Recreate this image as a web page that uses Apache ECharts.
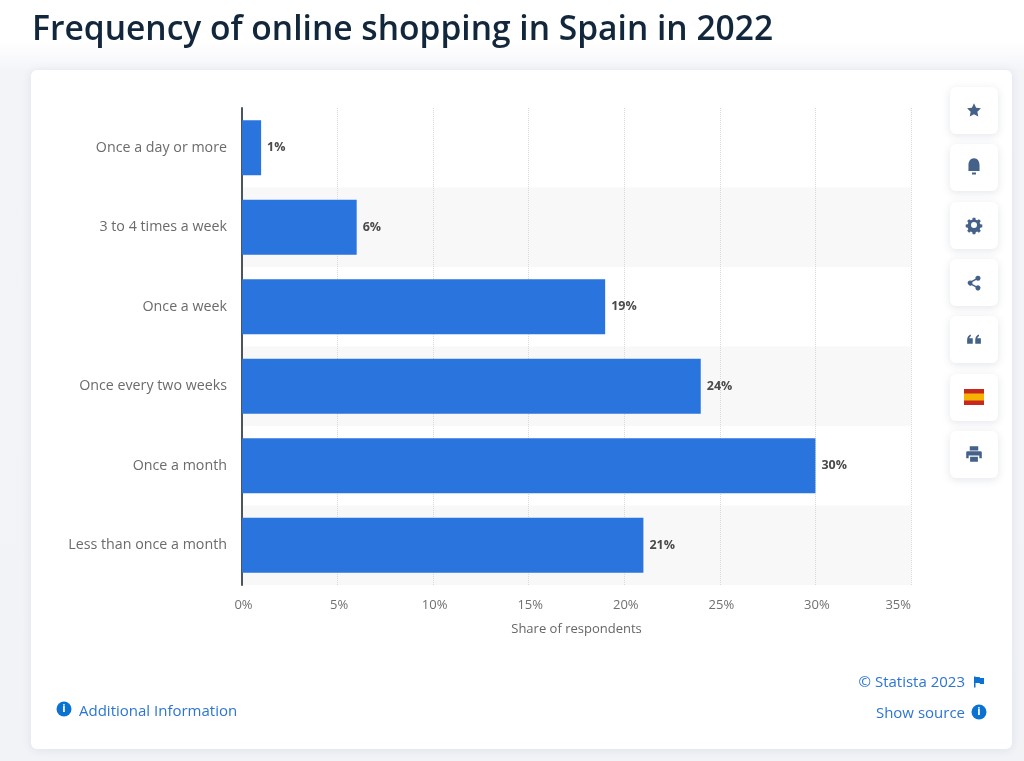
<!DOCTYPE html>
<html><head><meta charset="utf-8">
<style>html,body{margin:0;padding:0;background:#f3f4f8}#c{width:1024px;height:761px}</style>
<script src="https://cdn.jsdelivr.net/npm/echarts@6/dist/echarts.min.js"></script>
</head><body><div id="c"></div>
<script>
const categories = ['Once a day or more','3 to 4 times a week','Once a week','Once every two weeks','Once a month','Less than once a month'];
const shares = [1, 6, 19, 24, 30, 21];
const titleText = 'Frequency of online shopping in Spain in 2022';
const axisName = 'Share of respondents';

const F = '"Open Sans", "Noto Sans", sans-serif';
const navy = '#44618a';
const link = '#2b75d6';
const infoBlue = '#0b72d1';

function button(y){
  return {type:'rect',shape:{x:950,y:y,width:48,height:47,r:6},
    style:{fill:'#fff',shadowBlur:8,shadowColor:'rgba(40,60,100,0.13)',shadowOffsetY:2},z:2};
}
const icons = {
  icoStar:'M12 1l3.400 7.200 7.600 1-5.600 5.400 1.400 7.800L12 18.600 5.200 22.400l1.400-7.800L1 9.200l7.600-1z',
  icoBell:'M12 1c4.600 0 7 4 7 9v7H5v-7c0-5 2.400-9 7-9zM9.500 19h5v2.500h-5z',
  icoGear:'M10 1h4l.6 3 2.200.9 2.600-1.700 2.800 2.800-1.700 2.600.9 2.200 3 .6v4l-3 .6-.9 2.200 1.700 2.600-2.800 2.800-2.600-1.700-2.200.9-.6 3h-4l-.6-3-2.200-.9-2.600 1.700-2.800-2.800 1.700-2.600-.9-2.200-3-.6v-4l3-.6.9-2.200-1.700-2.600 2.800-2.800 2.600 1.700 2.200-.9zM12 7.500a4.500 4.500 0 1 0 0 9 4.500 4.500 0 0 0 0-9z',
  icoShare:'M18 1a3.800 3.800 0 1 1-2.800 6.400L9.500 10.600a3.800 3.800 0 0 1 0 2.800l5.700 3.200a3.800 3.800 0 1 1-1 1.800L8.500 15.200a3.800 3.800 0 1 1 0-6.400l5.700-3.200A3.800 3.800 0 0 1 18 1z',
  icoQuote:'M1 12c0-5 2-8 6-9v3c-1.500.5-2.300 1.500-2.500 3H10v9H1zM14 12c0-5 2-8 6-9v3c-1.500.5-2.300 1.500-2.500 3H23v9h-9z',
  icoPrint:'M6 1h12v6H6zM3 8h18a2 2 0 0 1 2 2v8h-3.500v-4h-15v4H1v-8a2 2 0 0 1 2-2zM6.500 16h11v7h-11z',
  icoFlag:'M2 1h3v1h8l1 2h8v12h-8l-1-2H5v9H2z'
};
Object.keys(icons).forEach(k => echarts.graphic.registerShape(k, echarts.graphic.extendPath(icons[k])));
function icon(name,cx,cy,size,fill){
  const s = size/24;
  return {type:name,x:cx-size/2,y:cy-size/2,scaleX:s,scaleY:s,style:{fill:fill||navy},z:3};
}
function info(cx,cy){
  return [
    {type:'circle',shape:{cx:cx,cy:cy,r:7.5},style:{fill:infoBlue},z:3},
    {type:'text',x:cx,y:cy,style:{text:'i',fill:'#fff',font:'bold 11px '+F,align:'center',verticalAlign:'middle'},z:4}
  ];
}

const graphics = [
  {type:'rect',shape:{x:0,y:0,width:1024,height:761},silent:true,z:-20,
   style:{fill:new echarts.graphic.LinearGradient(0,0,0,1,[
     {offset:0,color:'#ffffff'},{offset:0.055,color:'#ffffff'},{offset:0.095,color:'#f3f4f8'},{offset:1,color:'#f1f3f7'}])}},
  {type:'rect',shape:{x:31,y:70,width:981,height:679,r:6},
   style:{fill:'#fff',shadowBlur:10,shadowColor:'rgba(40,60,100,0.10)',shadowOffsetY:1},z:-10,silent:true},
  button(87),button(144),button(202),button(259),button(316),button(374),button(431),
  icon('icoStar',974,110,15),icon('icoBell',974,167,19),icon('icoGear',974,225,16),icon('icoShare',974,283,16),
  icon('icoQuote',974,340,15),icon('icoPrint',974,454,17),
  {type:'rect',shape:{x:964,y:389,width:20,height:16},style:{fill:'#c8281e'},z:3},
  {type:'rect',shape:{x:964,y:393.500,width:20,height:7},style:{fill:'#f5b400'},z:4},
  ...info(64,709),...info(979,712),
  {type:'text',x:79,y:712,style:{text:'Additional Information',fill:link,font:'15px '+F,align:'left',verticalAlign:'middle'},z:3},
  {type:'text',x:965,y:683,style:{text:'© Statista 2023',fill:link,font:'15px '+F,align:'right',verticalAlign:'middle'},z:3},
  {type:'text',x:965,y:714,style:{text:'Show source',fill:link,font:'15px '+F,align:'right',verticalAlign:'middle'},z:3},
  icon('icoFlag',979,682,12,infoBlue)
];

const chart = echarts.init(document.getElementById('c'),null,{renderer:'canvas'});
chart.setOption({
  animation:false,
  title:{text:titleText,left:27,top:8,textStyle:{fontFamily:F,fontSize:33.6,fontWeight:600,color:'#12263c'}},
  grid:{left:242,right:113,top:108,bottom:176,containLabel:false},
  xAxis:{type:'value',min:0,max:35,interval:5,
    name:axisName,nameLocation:'middle',nameGap:38,
    nameTextStyle:{fontFamily:F,fontSize:13,color:'#666'},
    axisLine:{show:false},axisTick:{show:false},
    axisLabel:{formatter:'{value}%',fontFamily:F,fontSize:13,color:'#707070',margin:14,alignMaxLabel:'right',padding:[0,0,0,3]},
    splitLine:{show:true,lineStyle:{color:'#d6d8dc',type:'dotted',width:1}}},
  yAxis:{type:'category',inverse:true,data:categories,
    axisLine:{show:true,lineStyle:{color:'#4a5560',width:2}},axisTick:{show:false},
    axisLabel:{fontFamily:F,fontSize:14.25,color:'#6b6b6b',margin:15},
    splitLine:{show:false},
    splitArea:{show:true,areaStyle:{color:['#ffffff','#f8f8f8']}}},
  series:[{type:'bar',data:shares,barWidth:55,
    itemStyle:{color:'#2a75dd'},
    label:{show:true,position:'right',distance:6,formatter:'{c}%',fontFamily:F,fontSize:12.500,fontWeight:700,color:'#4a4a4a'},
    z:2}],
  graphic:{elements:graphics}
});
</script></body></html>
